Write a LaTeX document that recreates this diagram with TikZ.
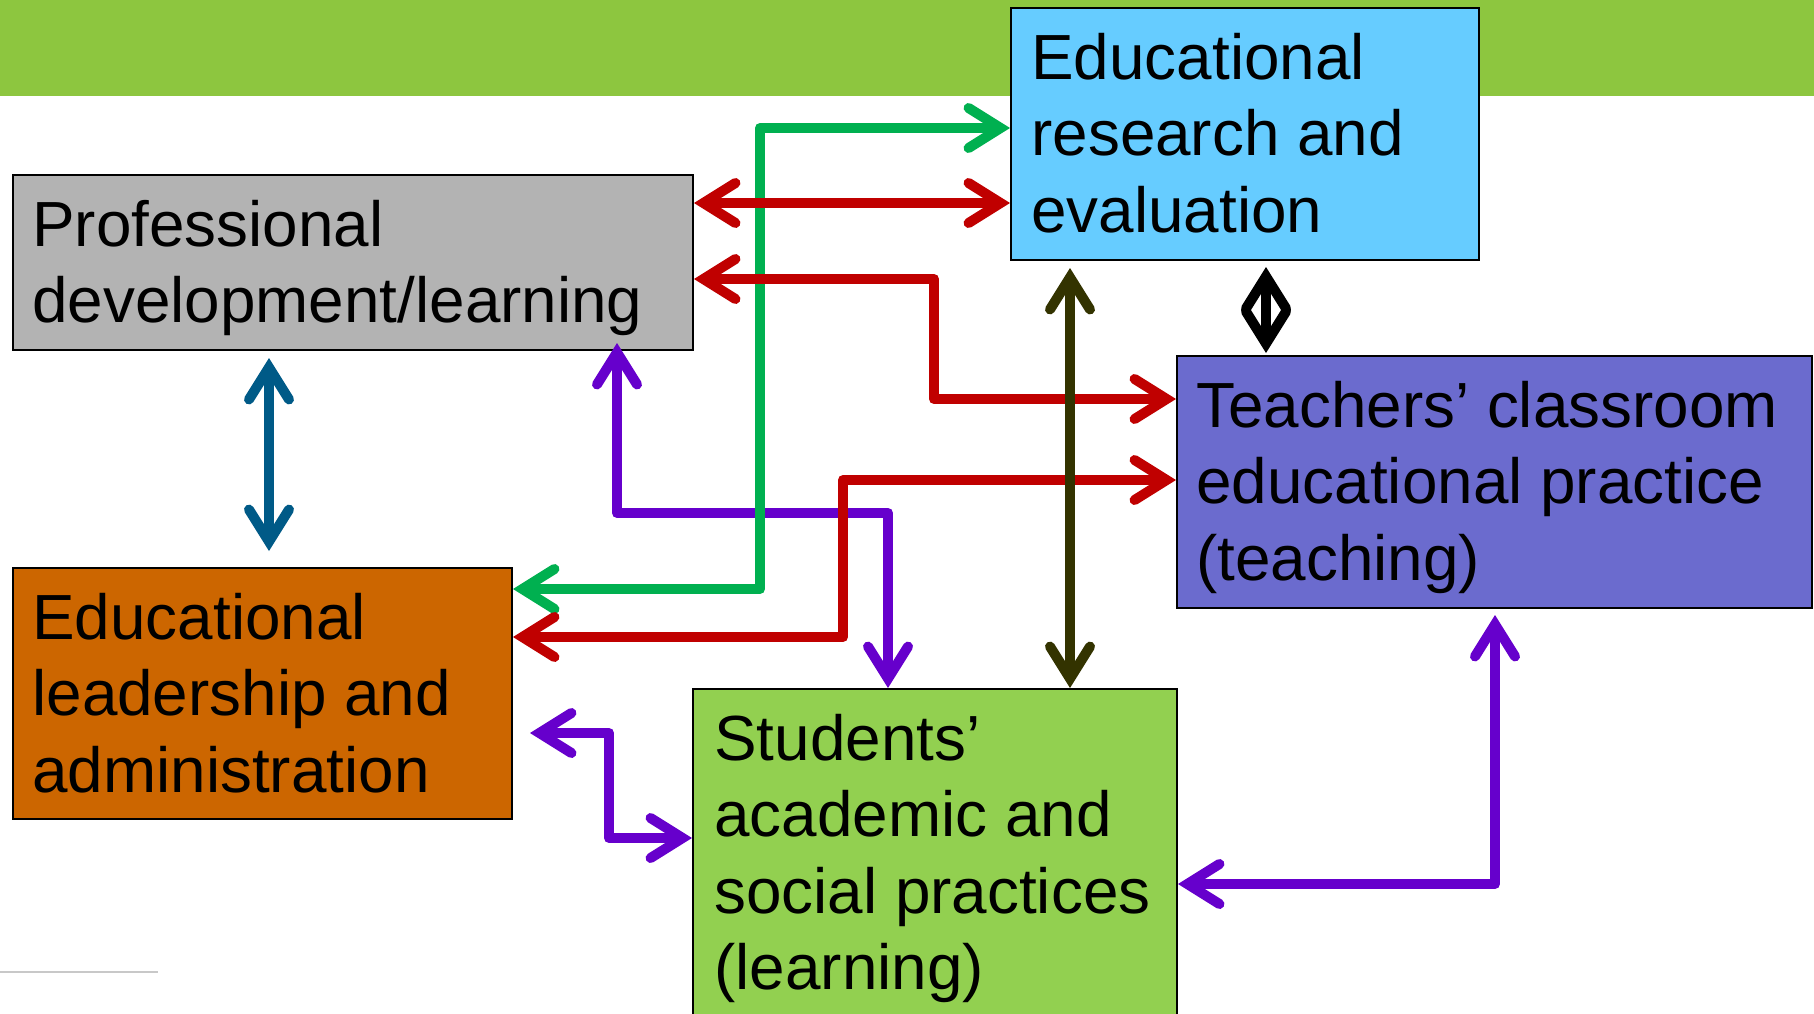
\documentclass[tikz,border=0pt]{standalone}
\usepackage{fontspec}
\setmainfont{Liberation Sans}
\usetikzlibrary{arrows.meta}

\definecolor{bandgreen}{HTML}{8DC63F}
\definecolor{profgray}{HTML}{B3B3B3}
\definecolor{resblue}{HTML}{66CCFF}
\definecolor{teachblue}{HTML}{6B6BCE}
\definecolor{leadorange}{HTML}{CC6600}
\definecolor{studgreen}{HTML}{92D050}
\definecolor{arrred}{HTML}{C00000}
\definecolor{arrgreen}{HTML}{00B050}
\definecolor{arrpurple}{HTML}{6600CC}
\definecolor{arrblue}{HTML}{005A87}
\definecolor{arrolive}{HTML}{333300}
\definecolor{lightrule}{HTML}{C8C8C8}

\tikzset{
  box/.style={draw=black, line width=1pt, anchor=north west, inner sep=0pt},
  lbl/.style={anchor=base west, align=left, inner sep=0pt, font=\fontsize{31.9pt}{38.3pt}\selectfont},
  link/.style={line width=5pt, line join=round, <->},
  >={Straight Barb[length=16pt, width=20pt, line cap=round, line join=miter]},
}

\begin{document}
\begin{tikzpicture}[x=0.5pt, y=-0.5pt]
\useasboundingbox (0,0) rectangle (1814,1013);
\clip (0,0) rectangle (1814,1013);
\fill[white] (0,0) rectangle (1814,1013);
\fill[bandgreen] (0,0) rectangle (1814,96);
\draw[lightrule, line width=1pt] (0,972) -- (158,972);

%boxes
\node[box, fill=profgray, minimum width=340pt, minimum height=87.5pt] (prof) at (12,174) {};
\node[box, fill=resblue, minimum width=234pt, minimum height=126pt] (res) at (1010,7) {};
\node[box, fill=teachblue, minimum width=317.5pt, minimum height=126pt] (teach) at (1176,355) {};
\node[box, fill=leadorange, minimum width=249.5pt, minimum height=125.5pt] (lead) at (12,567) {};
\node[box, fill=studgreen, minimum width=242pt, minimum height=170pt] (stud) at (692,688) {};

%texts (anchor is the last baseline)
\node[lbl] (proft) at ([shift={(10pt,-74.3pt)}]prof.north west) {Professional\\development/learning};
\node[lbl] (rest) at ([shift={(10.5pt,-112.6pt)}]res.north west) {Educational\\research and\\evaluation};
\node[lbl] (teacht) at ([shift={(10pt,-112.6pt)}]teach.north west) {Teachers’ classroom\\educational practice\\(teaching)};
\node[lbl] (leadt) at ([shift={(10pt,-112.6pt)}]lead.north west) {Educational\\leadership and\\administration};
\node[lbl] (studt) at ([shift={(11pt,-150.9pt)}]stud.north west) {Students’\\academic and\\social practices\\(learning)};

%purple links
\draw[link, arrpurple, shorten <=-4pt] (prof.south -| 617,0) -- (617,513) -- (888,513) -- (stud.north -| 888,0);
\draw[link, arrpurple, shorten <=8.5pt] (lead.east |- 0,733) -- (609,733) -- (609,838) -- (stud.west |- 0,838);
\draw[link, arrpurple, shorten >=3pt] (stud.east |- 0,884) -- (1495,884) -- (teach.south -| 1495,0);

%green link
\draw[link, arrgreen] (lead.east |- 0,589) -- (760,589) -- (760,128) -- (res.west |- 0,128);

%red links
\draw[link, arrred] (prof.east |- 0,203) -- (res.west |- 0,203);
\draw[link, arrred] (prof.east |- 0,279) -- (934,279) -- (934,399) -- (teach.west |- 0,399);
\draw[link, arrred] (lead.east |- 0,637) -- (843,637) -- (843,480) -- (teach.west |- 0,480);

%straight links
\draw[link, arrolive, shorten <=3.5pt] (res.south -| 1070,0) -- (stud.north -| 1070,0);
\draw[link, arrblue, shorten <=3.5pt, shorten >=8pt] (prof.south -| 269,0) -- (lead.north -| 269,0);
\draw[link, black, shorten <=3pt, shorten >=1pt] (res.south -| 1266,0) -- (teach.north -| 1266,0);
\end{tikzpicture}
\end{document}
